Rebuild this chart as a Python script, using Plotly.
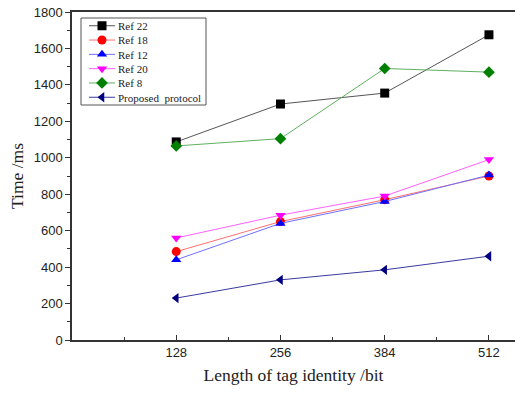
import plotly.graph_objects as go

x_bits = [128, 256, 384, 512]
ref22 = [1087, 1295, 1355, 1675]
ref18 = [485, 650, 770, 900]
ref12 = [440, 640, 760, 905]
ref20 = [560, 685, 790, 990]
ref8 = [1065, 1105, 1490, 1470]
proposed = [230, 330, 385, 460]

names = ["Ref 22", "Ref 18", "Ref 12", "Ref 20", "Ref 8", "Proposed  protocol"]
values = [ref22, ref18, ref12, ref20, ref8, proposed]
marker_colors = ["#000000", "#ff0000", "#0000ff", "#ff00ff", "#008000", "#000080"]
line_colors = ["#555555", "#ff7070", "#7070ff", "#ff60ff", "#60b060", "#3a3aa0"]
symbols = ["square", "circle", "triangle-up", "triangle-down", "diamond", "triangle-left"]

# layout geometry (pixels)
L, T, W, H = 72, 12, 443, 328

fig = go.Figure()
for name, vals, mc, lc, sym in zip(names, values, marker_colors, line_colors, symbols):
    fig.add_trace(go.Scatter(
        x=x_bits, y=vals, name=name, mode="lines+markers", showlegend=False,
        line=dict(color=lc, width=1),
        marker=dict(symbol=sym, color=mc, size=9, line=dict(width=0)),
    ))

# custom compact legend, drawn on a pixel-based overlay axis
leg_font = 11
row_gap = leg_font * 1.3
leg_x0, leg_x1, leg_y0, leg_y1 = 81, 206, 18, 105
row_mid = (leg_y0 + leg_y1) / 2
row0 = row_mid - 2.5 * row_gap
fig.add_shape(type="rect", xref="x2", yref="y2", x0=leg_x0, x1=leg_x1, y0=leg_y0, y1=leg_y1,
              line=dict(color="#555555", width=1), fillcolor="white", layer="below")
for i, (name, mc, lc, sym) in enumerate(zip(names, marker_colors, line_colors, symbols)):
    yy = row0 + i * row_gap
    fig.add_trace(go.Scatter(
        x=[89, 115], y=[yy, yy], xaxis="x2", yaxis="y2", mode="lines", showlegend=False,
        line=dict(color=lc, width=1), hoverinfo="skip"))
    fig.add_trace(go.Scatter(
        x=[102], y=[yy], xaxis="x2", yaxis="y2", mode="markers", showlegend=False,
        marker=dict(symbol=sym, color=mc, size=9, line=dict(width=0)), hoverinfo="skip"))
fig.add_annotation(x=117, y=row_mid, xref="x2", yref="y2", text="<br>".join(names),
                   showarrow=False, xanchor="left", yanchor="middle", align="left",
                   borderpad=0,
                   font=dict(family="Liberation Serif", size=leg_font, color="#222"))

fig.update_layout(
    width=515, height=393,
    margin=dict(l=L, r=515 - L - W, t=T, b=393 - T - H, autoexpand=False),
    paper_bgcolor="white", plot_bgcolor="white",
    showlegend=False,
    xaxis=dict(
        range=[0, 544], tickvals=[128, 256, 384, 512], automargin=False,
        ticks="inside", ticklen=5, tickcolor="#333",
        minor=dict(tickvals=[64, 192, 320, 448], ticks="inside", ticklen=3, tickcolor="#333"),
        showline=True, linecolor="#333", linewidth=1.5, mirror=True,
        showgrid=False, zeroline=False,
        tickfont=dict(family="Liberation Sans", size=13, color="#222"),
        title=dict(text="Length of tag identity /bit", standoff=9,
                   font=dict(family="Liberation Serif", size=17.5, color="#222")),
    ),
    yaxis=dict(
        range=[0, 1800], tickvals=list(range(0, 1801, 200)), automargin=False,
        ticks="outside", ticklen=5, tickcolor="#333",
        minor=dict(dtick=100, ticks="outside", ticklen=3, tickcolor="#333"),
        showline=True, linecolor="#333", linewidth=1.5, mirror=False,
        showgrid=False, zeroline=False,
        tickfont=dict(family="Liberation Sans", size=13, color="#222"),
        title=dict(text="Time /ms", standoff=6,
                   font=dict(family="Liberation Serif", size=17.5, color="#222")),
    ),
    xaxis2=dict(range=[L, L + W], overlaying="x", visible=False, fixedrange=True),
    yaxis2=dict(range=[T + H, T], overlaying="y", visible=False, fixedrange=True),
)

fig.write_html("out.html", config={"displayModeBar": False},
               post_script="document.body.style.margin='0';document.body.style.overflow='hidden';")
